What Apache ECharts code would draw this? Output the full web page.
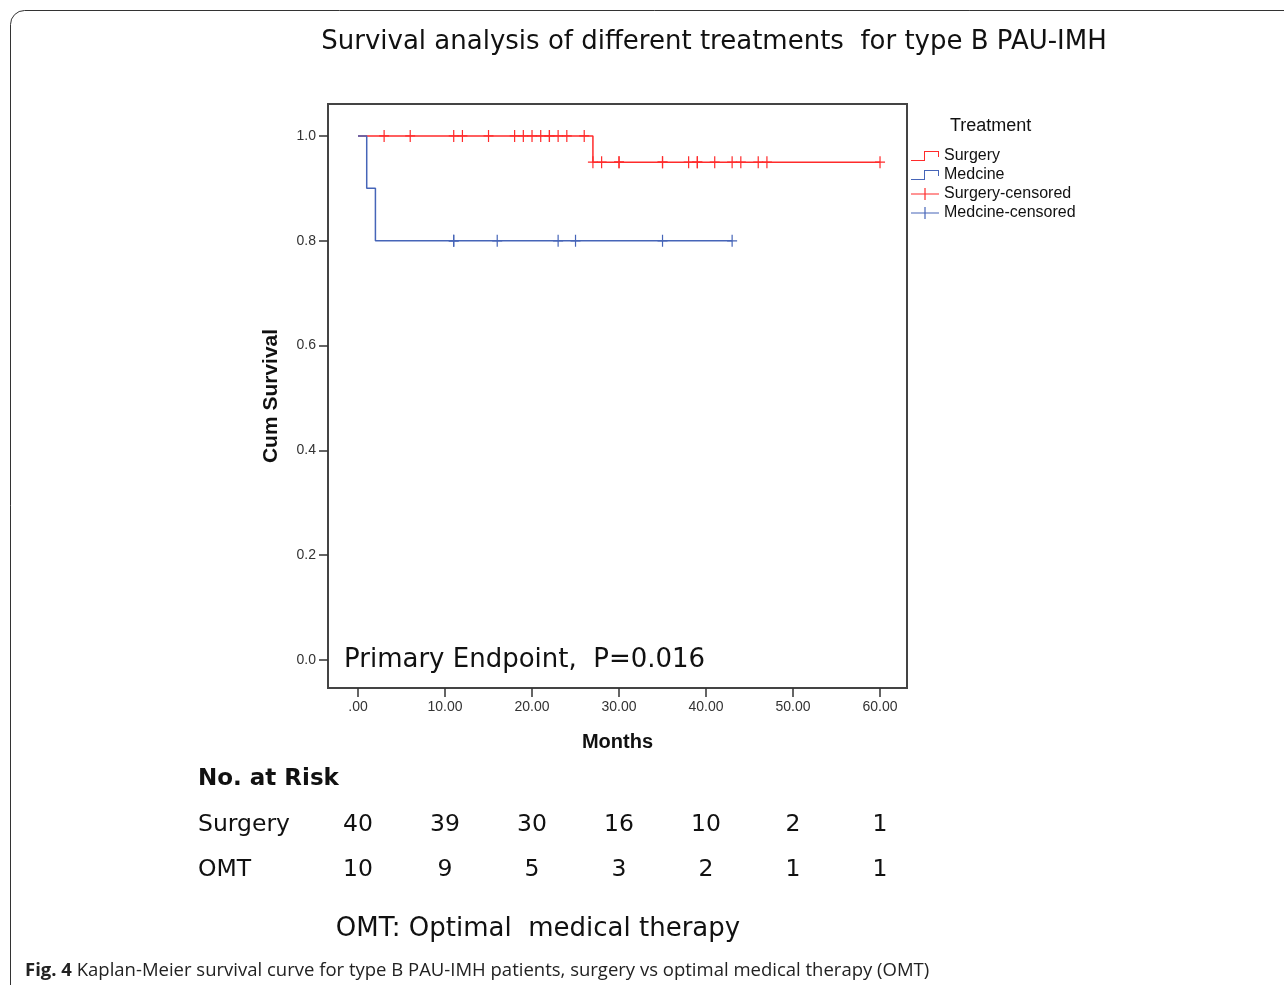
<!DOCTYPE html>
<html>
<head>
<meta charset="utf-8">
<script src="https://cdn.jsdelivr.net/npm/echarts@6/dist/echarts.min.js"></script>
<style>
  html, body { margin: 0; padding: 0; background: #fff; }
  #chart { width: 1284px; height: 985px; }
</style>
</head>
<body>
<div id="chart"></div>
<script>
// Kaplan-Meier steps (months, cumulative survival)
const surgeryTimes = [0, 27, 60];
const surgerySurv = [1.0, 0.95, 0.95];
const medicineTimes = [0, 1, 2, 43];
const medicineSurv = [1.0, 0.9, 0.8, 0.8];

// censored observations (months)
const surgeryCensored = [3, 6, 11, 12, 15, 18, 19, 20, 21, 22, 22, 23, 24, 26,
  27, 28, 30, 30, 35, 35, 38, 39, 39, 41, 43, 44, 46, 47, 60];
const medicineCensored = [11, 11, 16, 23, 25, 35, 43];

// number at risk table
const riskTimes = [0, 10, 20, 30, 40, 50, 60];
const riskSurgery = [40, 39, 30, 16, 10, 2, 1];
const riskOMT = [10, 9, 5, 3, 2, 1, 1];
const riskRows = ['OMT', 'Surgery'];

const xTicks = [0, 10, 20, 30, 40, 50, 60];
const yTicks = [0, 0.2, 0.4, 0.6, 0.8, 1.0];

const RED = '#ff2b2b';
const BLUE = '#4665b8';
const FONT = '"Liberation Sans", Arial, sans-serif';
const WIDE = '"DejaVu Sans", sans-serif';

// survival value at time t from a step curve
const survAt = (times, surv, t) => {
  let s = surv[0];
  times.forEach((tt, i) => { if (tt <= t) s = surv[i]; });
  return s;
};

const stepIcon = 'path://M0,9L13,9L13,0L28,0L28,6L27,6L27,1L14,1L14,10L0,10Z';
const plusIcon = 'path://M13.4,0L14.6,0L14.6,5.4L28,5.4L28,6.6L14.6,6.6L14.6,12L13.4,12L13.4,6.6L0,6.6L0,5.4L13.4,5.4Z';
const plusMark = 'path://M4.4,0L5.6,0L5.6,5.4L10,5.4L10,6.6L5.6,6.6L5.6,12L4.4,12L4.4,6.6L0,6.6L0,5.4L4.4,5.4Z';

const chart = echarts.init(document.getElementById('chart'));

const option = {
  backgroundColor: '#fff',
  animation: false,
  textStyle: { fontFamily: FONT },
  title: [
    {
      text: 'Survival analysis of different treatments  for type B PAU-IMH',
      left: 709, top: 24, textAlign: 'center',
      textStyle: { fontSize: 26, fontWeight: 'normal', color: '#111', fontFamily: WIDE }
    },
    {
      text: 'Treatment',
      left: 945, top: 112,
      textStyle: { fontSize: 18, fontWeight: 'normal', color: '#111', fontFamily: FONT }
    },
    {
      text: 'No. at Risk',
      left: 193, top: 763,
      textStyle: { fontSize: 23, fontWeight: 'bold', color: '#111', fontFamily: WIDE }
    },
    {
      text: 'OMT: Optimal  medical therapy',
      left: 533, top: 911, textAlign: 'center',
      textStyle: { fontSize: 26, fontWeight: 'normal', color: '#111', fontFamily: WIDE }
    }
  ],
  legend: {
    orient: 'vertical',
    left: 911, top: 148, padding: 0,
    itemWidth: 28, itemHeight: 12, itemGap: 3,
    textStyle: { fontSize: 16, color: '#111', fontFamily: FONT },
    data: [
      { name: 'Surgery', icon: stepIcon },
      { name: 'Medcine', icon: stepIcon },
      { name: 'Surgery-censored', icon: plusIcon },
      { name: 'Medcine-censored', icon: plusIcon }
    ]
  },
  grid: [
    {
      left: 328, top: 104, width: 579, height: 584,
      show: true, borderColor: '#444', borderWidth: 2, backgroundColor: '#fff'
    },
    { left: 328, top: 802, width: 579, height: 90 }
  ],
  xAxis: [
    {
      type: 'value', gridIndex: 0, min: -3.45, max: 63.1,
      name: 'Months', nameLocation: 'middle', nameGap: 44,
      nameTextStyle: { fontSize: 20, fontWeight: 'bold', color: '#111', fontFamily: FONT },
      splitLine: { show: false },
      axisLine: { show: false, onZero: false },
      axisTick: { show: true, length: 9, customValues: xTicks, lineStyle: { color: '#333', width: 1.5 } },
      axisLabel: {
        customValues: xTicks, margin: 12, fontSize: 14, color: '#333',
        formatter: v => (v === 0 ? '.00' : v.toFixed(2))
      }
    },
    { type: 'value', gridIndex: 1, min: -3.45, max: 63.1, show: false }
  ],
  yAxis: [
    {
      type: 'value', gridIndex: 0, min: -0.0534, max: 1.061,
      name: 'Cum Survival', nameLocation: 'middle', nameGap: 46, nameRotate: 90,
      nameTextStyle: { fontSize: 21, fontWeight: 'bold', color: '#111', fontFamily: FONT },
      splitLine: { show: false },
      axisLine: { show: false, onZero: false },
      axisTick: { show: true, length: 9, customValues: yTicks, lineStyle: { color: '#333', width: 1.5 } },
      axisLabel: {
        customValues: yTicks, margin: 12, fontSize: 14, color: '#333',
        formatter: v => v.toFixed(1)
      }
    },
    {
      type: 'category', gridIndex: 1, data: riskRows,
      axisLine: { show: false }, axisTick: { show: false }, splitLine: { show: false },
      axisLabel: { align: 'left', margin: 130, fontSize: 23.5, color: '#111', fontFamily: WIDE }
    }
  ],
  graphic: [
    {
      type: 'rect', silent: true, z: -1,
      shape: { x: 10.5, y: 10.5, width: 1400, height: 1200, r: 14 },
      style: { fill: 'none', stroke: '#333', lineWidth: 1 }
    },
    {
      type: 'text', left: 344, top: 647,
      style: { text: 'Primary Endpoint,  P=0.016', fontSize: 26, fill: '#111', fontFamily: WIDE }
    },
    {
      type: 'text', left: 25, top: 961,
      style: {
        text: '{b|Fig. 4} Kaplan-Meier survival curve for type B PAU-IMH patients, surgery vs optimal medical therapy (OMT)',
        fontSize: 18.5, fill: '#222', fontFamily: '"Open Sans", sans-serif',
        rich: { b: { fontSize: 18.5, fontWeight: 'bold', fill: '#222', fontFamily: '"Open Sans", sans-serif' } }
      }
    }
  ],
  series: [
    {
      name: 'Surgery', type: 'line', step: 'end', xAxisIndex: 0, yAxisIndex: 0,
      symbol: 'none', color: RED,
      lineStyle: { color: RED, width: 1.5 }, itemStyle: { color: RED },
      data: surgeryTimes.map((t, i) => [t, surgerySurv[i]])
    },
    {
      name: 'Medcine', type: 'line', step: 'end', xAxisIndex: 0, yAxisIndex: 0,
      symbol: 'none', color: BLUE,
      lineStyle: { color: BLUE, width: 1.5 }, itemStyle: { color: BLUE },
      data: medicineTimes.map((t, i) => [t, medicineSurv[i]])
    },
    {
      name: 'Surgery-censored', type: 'scatter', xAxisIndex: 0, yAxisIndex: 0,
      symbol: plusMark, symbolSize: [10, 12], itemStyle: { color: RED, opacity: 1 },
      data: surgeryCensored.map(t => [t, survAt(surgeryTimes, surgerySurv, t)])
    },
    {
      name: 'Medcine-censored', type: 'scatter', xAxisIndex: 0, yAxisIndex: 0,
      symbol: plusMark, symbolSize: [10, 12], itemStyle: { color: BLUE, opacity: 1 },
      data: medicineCensored.map(t => [t, survAt(medicineTimes, medicineSurv, t)])
    },
    {
      name: 'risk', type: 'scatter', xAxisIndex: 1, yAxisIndex: 1,
      symbolSize: 1, itemStyle: { color: 'transparent', opacity: 1 }, silent: true,
      label: {
        show: true, position: 'inside', fontSize: 23.5, color: '#111', fontFamily: WIDE,
        formatter: p => p.value[2]
      },
      data: riskTimes.map((t, i) => [t, 'Surgery', riskSurgery[i]])
        .concat(riskTimes.map((t, i) => [t, 'OMT', riskOMT[i]]))
    }
  ]
};

chart.setOption(option);
window.addEventListener('resize', () => chart.resize());
</script>
</body>
</html>
